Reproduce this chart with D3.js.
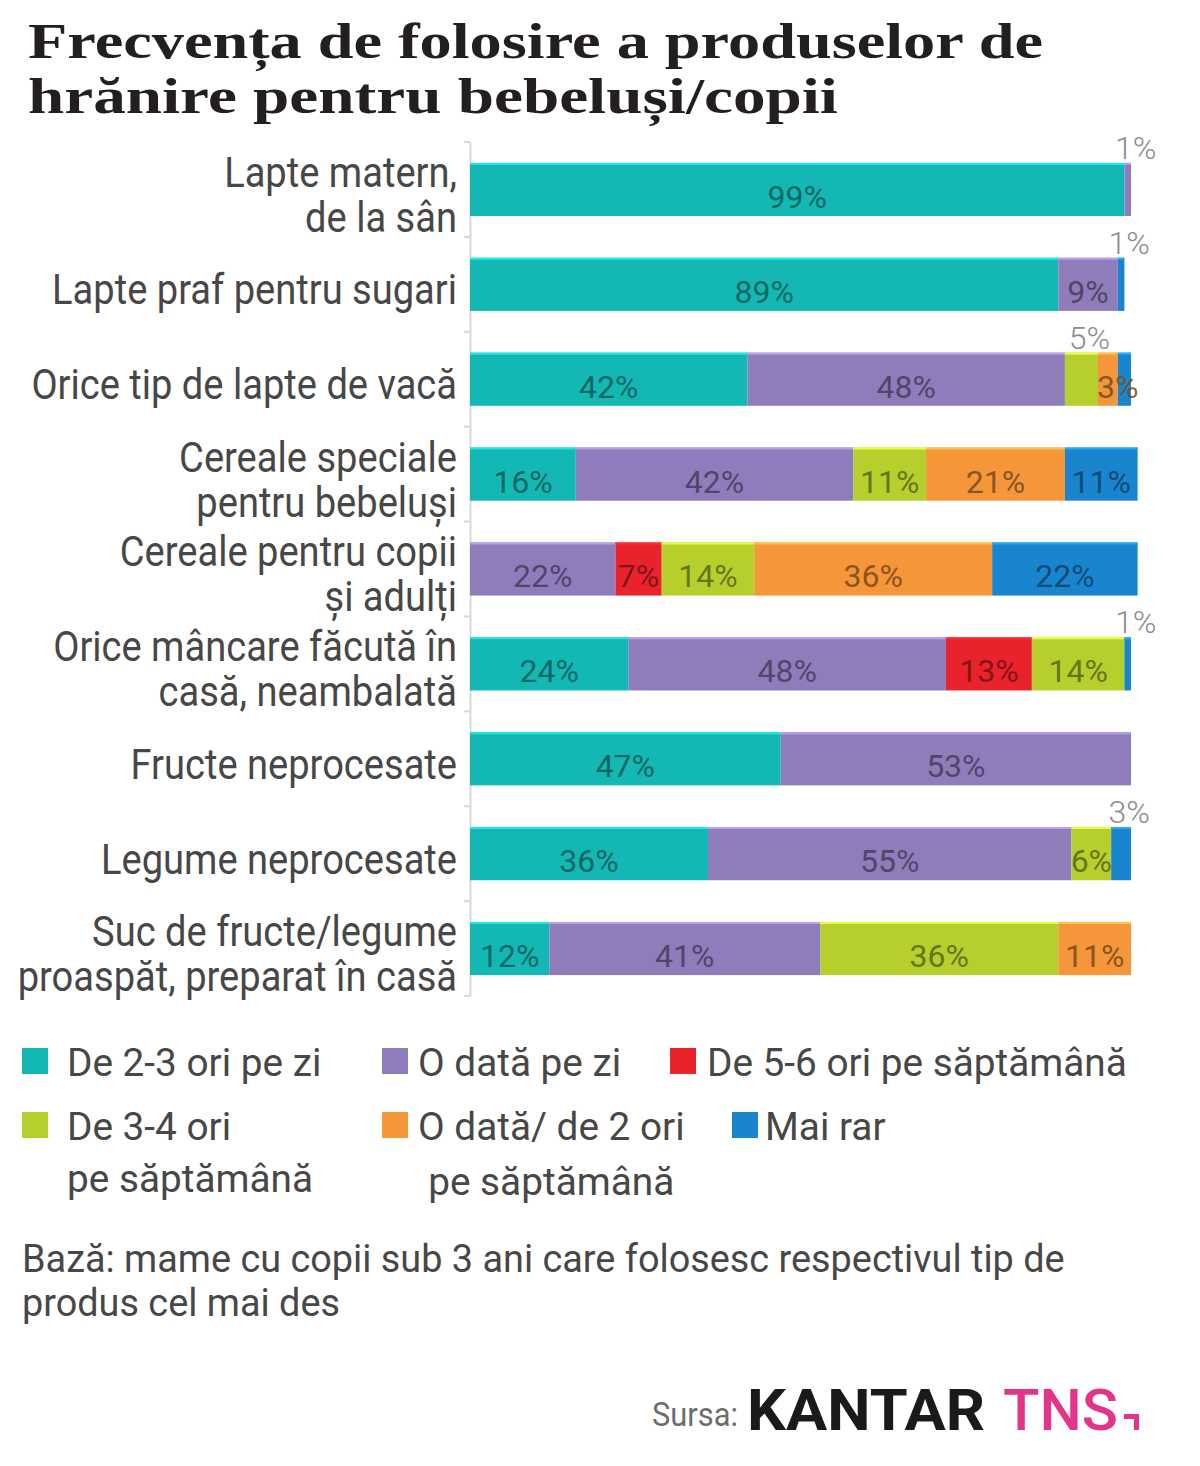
<!DOCTYPE html>
<html lang="ro">
<head>
<meta charset="utf-8">
<title>Frecvența de folosire</title>
<script src="https://cdn.jsdelivr.net/npm/d3@7"></script>
<style>
  body { margin: 0; background: #fff; }
  svg text { font-family: Roboto, "Noto Sans", sans-serif; }
</style>
</head>
<body>
<div id="chart"></div>
<script>
// categorii (rânduri), fiecare cu liniile etichetei
var categories = [
  ["Lapte matern,", "de la sân"],
  ["Lapte praf pentru sugari"],
  ["Orice tip de lapte de vacă"],
  ["Cereale speciale", "pentru bebeluși"],
  ["Cereale pentru copii", "și adulți"],
  ["Orice mâncare făcută în", "casă, neambalată"],
  ["Fructe neprocesate"],
  ["Legume neprocesate"],
  ["Suc de fructe/legume", "proaspăt, preparat în casă"]
];

var seriesNames = ["De 2-3 ori pe zi", "O dată pe zi", "De 5-6 ori pe săptămână",
  "De 3-4 ori pe săptămână", "O dată/ de 2 ori pe săptămână", "Mai rar"];
var seriesColors = ["#13b7b3", "#8f7cbb", "#e8232c", "#b6cf2d", "#f5963a", "#1985cf"];

// procente pe serie, în ordinea categoriilor
var deDouaTreiPeZi   = [99, 89, 42, 16,  0, 24, 47, 36, 12];
var oDataPeZi        = [ 1,  9, 48, 42, 22, 48, 53, 55, 41];
var deCinciSase      = [ 0,  0,  0,  0,  7, 13,  0,  0,  0];
var deTreiPatru      = [ 0,  0,  5, 11, 14, 14,  0,  6, 36];
var oDataDouaOri     = [ 0,  0,  3, 21, 36,  0,  0,  0, 11];
var maiRar           = [ 0,  1,  2, 11, 22,  1,  0,  3,  0];
var seriesValues = [deDouaTreiPeZi, oDataPeZi, deCinciSase, deTreiPatru, oDataDouaOri, maiRar];

// etichete puse deasupra barei: [categorie, serie]; etichete ascunse
var labelsAbove = [[0, 1], [1, 5], [2, 3], [5, 5], [7, 5]];
var labelsHidden = [[2, 5]];

// legenda pe două rânduri, cu liniile fiecărei intrări
var legendRows = [
  [["De 2-3 ori pe zi"], ["O dată pe zi"], ["De 5-6 ori pe săptămână"]],
  [["De 3-4 ori", "pe săptămână"], ["O dată/ de 2 ori", "pe săptămână"], ["Mai rar"]]
];

var W = 1200, H = 1466;
var svg = d3.select("#chart").append("svg")
  .attr("width", W).attr("height", H);

// comprimă orizontal un grup de texte în jurul lui ax
function squeeze(g, ax, k) {
  g.attr("transform", "translate(" + ax + ",0) scale(" + k + ",1) translate(" + (-ax) + ",0)");
}

// titlu
var title = svg.append("g").attr("fill", "#231f20")
  .style("font-weight", "bold")
  .style("font-size", "50px");
title.append("text").attr("x", 28).attr("y", 58)
  .style("font-family", "'Liberation Serif', 'DejaVu Serif', serif")
  .attr("textLength", 1015).attr("lengthAdjust", "spacingAndGlyphs")
  .text("Frecvența de folosire a produselor de");
title.append("text").attr("x", 28).attr("y", 113)
  .style("font-family", "'Liberation Serif', 'DejaVu Serif', serif")
  .attr("textLength", 810).attr("lengthAdjust", "spacingAndGlyphs")
  .text("hrănire pentru bebeluși/copii");

var x = d3.scaleLinear().domain([0, 100]).range([470, 1131]);
var y = d3.scaleBand().domain(d3.range(categories.length))
  .range([142, 996]).paddingInner(0.44).paddingOuter(0.22);

// axa verticală cu liniuțe între rânduri
var axis = svg.append("g").attr("transform", "translate(470,0)")
  .call(d3.axisLeft(y).tickValues([]).tickSizeOuter(0));
axis.select(".domain").attr("stroke", "#d9d9d9").attr("stroke-width", 2);
function sepY(i) { return y(0) - y.step() * 0.22 + i * y.step(); }
axis.selectAll(".sep").data(d3.range(categories.length + 1)).join("line")
  .attr("class", "sep")
  .attr("x1", -6).attr("x2", 0)
  .attr("y1", sepY).attr("y2", sepY)
  .attr("stroke", "#d9d9d9").attr("stroke-width", 2);

// etichete categorii
var catG = svg.append("g").attr("fill", "#474747").style("font-size", "42px");
var catTexts = [];
categories.forEach(function(lines, i) {
  var cy = y(i) + y.bandwidth() / 2;
  var t = catG.append("text").attr("text-anchor", "end");
  lines.forEach(function(line, k) {
    t.append("tspan").attr("x", 457)
      .attr("y", cy + 20 + (k - (lines.length - 1) / 2) * 45)
      .text(line);
  });
  catTexts.push(t);
});
squeeze(catG, 457, 405 / catTexts[1].node().getComputedTextLength());

// stive
var rows = categories.map(function(c, i) {
  var row = { i: i };
  seriesValues.forEach(function(vals, s) { row[s] = vals[i]; });
  return row;
});
var stack = d3.stack().keys(d3.range(seriesNames.length))(rows);

function isIn(list, i, s) {
  return list.some(function(p) { return p[0] === i && p[1] === s; });
}

var segs = svg.append("g").selectAll("g").data(stack).join("g")
  .attr("fill", function(d) { return seriesColors[d.key]; });

segs.selectAll("rect").data(function(d) { return d.filter(function(p) { return p[1] > p[0]; }); })
  .join("rect")
  .attr("x", function(p) { return x(p[0]); })
  .attr("y", function(p) { return y(p.data.i); })
  .attr("width", function(p) { return x(p[1]) - x(p[0]); })
  .attr("height", y.bandwidth());

// margine superioară mai deschisă
segs.each(function(layer) {
  var c = d3.color(seriesColors[layer.key]).brighter(0.7);
  d3.select(this).selectAll("line")
    .data(layer.filter(function(p) { return p[1] > p[0]; }))
    .join("line")
    .attr("x1", function(p) { return x(p[0]); })
    .attr("x2", function(p) { return x(p[1]); })
    .attr("y1", function(p) { return y(p.data.i) + 1; })
    .attr("y2", function(p) { return y(p.data.i) + 1; })
    .attr("stroke", c).attr("stroke-width", 2);
});

// etichete valori
var lab = svg.append("g").style("font-size", "32px");
stack.forEach(function(layer) {
  var s = layer.key;
  layer.forEach(function(p) {
    var v = p[1] - p[0], i = p.data.i;
    if (v <= 0 || isIn(labelsHidden, i, s)) return;
    var top = y(i);
    var cx = (x(p[0]) + x(p[1])) / 2;
    if (isIn(labelsAbove, i, s)) {
      lab.append("text")
        .attr("x", cx + 8).attr("y", top - 4)
        .attr("text-anchor", "middle")
        .attr("fill", "#8c8c8c")
        .style("font-weight", 300)
        .text(v + "%");
    } else {
      if (v <= 3) cx = x(p[1]);
      lab.append("text")
        .attr("x", cx).attr("y", top + 45)
        .attr("text-anchor", "middle")
        .attr("fill", d3.color(seriesColors[s]).darker(1.9))
        .attr("fill-opacity", 0.9)
        .text(v + "%");
    }
  });
});

// legendă
var legSq = [[22, 382, 670], [22, 382, 732]];
var legTx = [[67, 418, 707], [67, 418, 765]];
var legY = [1048, 1112];
var legend = svg.append("g").attr("fill", "#474747").style("font-size", "38px");
var legK = null, sIdx = 0;
legendRows.forEach(function(row, r) {
  row.forEach(function(lines, c) {
    legend.append("rect")
      .attr("x", legSq[r][c]).attr("y", legY[r])
      .attr("width", 26).attr("height", 26)
      .attr("fill", seriesColors[sIdx]);
    var tg = legend.append("g");
    var t = tg.append("text");
    lines.forEach(function(line, k) {
      t.append("tspan")
        .attr("x", legTx[r][c] + (k > 0 && c === 1 ? 10 : 0))
        .attr("y", legY[r] + 28 + k * 55 - (k > 0 && c === 0 ? 3 : 0))
        .text(line);
    });
    if (legK === null) {
      // scară din cea mai lungă intrare
      var probe = legend.append("text").text(seriesNames[2]);
      legK = 420 / probe.node().getComputedTextLength();
      probe.remove();
    }
    squeeze(tg, legTx[r][c], legK);
    sIdx++;
  });
});

// notă
var note = svg.append("g").attr("fill", "#474747").style("font-size", "38px");
var n1 = note.append("text").attr("x", 22).attr("y", 1272)
  .text("Bază: mame cu copii sub 3 ani care folosesc respectivul tip de");
note.append("text").attr("x", 22).attr("y", 1316)
  .text("produs cel mai des");
squeeze(note, 22, 1043 / n1.node().getComputedTextLength());

// sursa
var src = svg.append("g");
src.append("text").attr("x", 652).attr("y", 1426)
  .attr("fill", "#6d6d6d").style("font-size", "34px")
  .attr("textLength", 86).attr("lengthAdjust", "spacingAndGlyphs")
  .text("Sursa:");
src.append("text").attr("x", 747).attr("y", 1430)
  .style("font-weight", "bold")
  .style("font-size", "58px").attr("fill", "#1a1a1a")
  .attr("textLength", 238).attr("lengthAdjust", "spacingAndGlyphs")
  .text("KANTAR");
src.append("text").attr("x", 1003).attr("y", 1430)
  .style("font-weight", 500)
  .style("font-size", "58px").attr("fill", "#e2358a")
  .attr("textLength", 115).attr("lengthAdjust", "spacingAndGlyphs")
  .text("TNS");
src.append("path").attr("d", "M1124,1414h15v16h-5v-11h-10z").attr("fill", "#e2358a");
</script>
</body>
</html>
